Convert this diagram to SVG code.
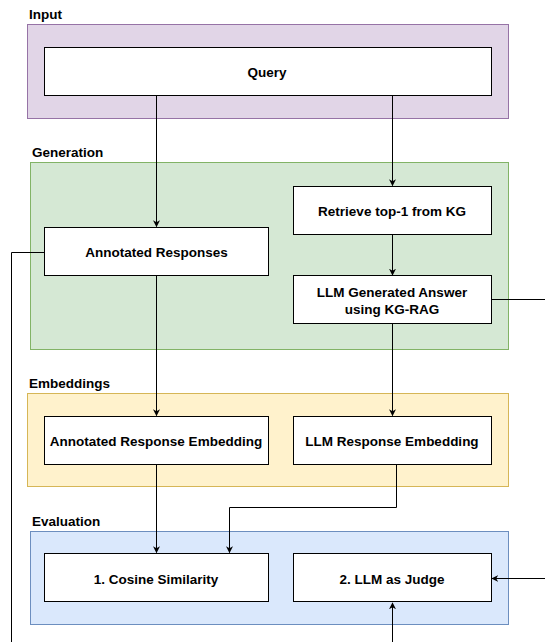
<svg xmlns="http://www.w3.org/2000/svg" width="545" height="642" viewBox="0 0 545 642">
<style>
text{font-family:"Liberation Sans",Arial,sans-serif;font-weight:bold;font-size:13.5px;fill:#000}
.c{text-anchor:middle;dominant-baseline:central}
.node{fill:#fff;stroke:#000;stroke-width:1}
.edge{fill:none;stroke:#000;stroke-width:1}
</style>
<defs>
<marker id="ah" viewBox="0 0 10 10" refX="9" refY="5" markerWidth="7" markerHeight="7" markerUnits="userSpaceOnUse" orient="auto">
<path d="M0,0 L10,5 L0,10 L3,5 Z" fill="#000"/>
</marker>
</defs>
<g id="containers">
<g id="input-group"><rect x="27.5" y="24.5" width="481" height="94" fill="#e1d5e7" stroke="#9673a6"/><text x="29" y="19">Input</text></g>
<g id="generation-group"><rect x="30.5" y="162.5" width="478" height="187" fill="#d5e8d4" stroke="#82b366"/><text x="32" y="157">Generation</text></g>
<g id="embeddings-group"><rect x="27.5" y="393.5" width="481" height="93" fill="#fff2cc" stroke="#d6b656"/><text x="29" y="388">Embeddings</text></g>
<g id="evaluation-group"><rect x="30.5" y="531.5" width="478" height="93" fill="#dae8fc" stroke="#6c8ebf"/><text x="32" y="526">Evaluation</text></g>
</g>
<g id="connectors">
<path class="edge" d="M156.5,96 V226.5" marker-end="url(#ah)"/>
<path class="edge" d="M392.5,96 V185.5" marker-end="url(#ah)"/>
<path class="edge" d="M392.5,234.5 V275" marker-end="url(#ah)"/>
<path class="edge" d="M156.5,275.5 V415.5" marker-end="url(#ah)"/>
<path class="edge" d="M392.5,324 V415.5" marker-end="url(#ah)"/>
<path class="edge" d="M156.5,464.5 V552.5" marker-end="url(#ah)"/>
<path class="edge" d="M396.5,464.5 V507.5 H229.5 V552.5" marker-end="url(#ah)"/>
<path class="edge" d="M44.5,252.5 H11.5 V642"/>
<path class="edge" d="M491.5,299.5 H545"/>
<path class="edge" d="M545,578.5 H492" marker-end="url(#ah)"/>
<path class="edge" d="M392.5,642 V603" marker-end="url(#ah)"/>
</g>
<g id="query"><rect class="node" x="44.5" y="47.5" width="447" height="48"/><text class="c" x="267" y="72">Query</text></g>
<g id="retrieve"><rect class="node" x="293.5" y="186.5" width="198" height="48"/><text class="c" x="392" y="211">Retrieve top-1 from KG</text></g>
<g id="annotated"><rect class="node" x="44.5" y="227.5" width="224" height="48"/><text class="c" x="156.5" y="252">Annotated Responses</text></g>
<g id="llm-gen"><rect class="node" x="293.5" y="275.5" width="198" height="48"/><text class="c" x="392" y="292">LLM Generated Answer</text><text class="c" x="392" y="309">using KG-RAG</text></g>
<g id="ann-emb"><rect class="node" x="44.5" y="416.5" width="224" height="48"/><text class="c" x="156" y="441">Annotated Response Embedding</text></g>
<g id="llm-emb"><rect class="node" x="293.5" y="416.5" width="198" height="48"/><text class="c" x="392" y="441">LLM Response Embedding</text></g>
<g id="cosine"><rect class="node" x="44.5" y="553.5" width="224" height="48"/><text class="c" x="156" y="579">1. Cosine Similarity</text></g>
<g id="judge"><rect class="node" x="293.5" y="553.5" width="198" height="48"/><text class="c" x="392" y="579">2. LLM as Judge</text></g>
</svg>
